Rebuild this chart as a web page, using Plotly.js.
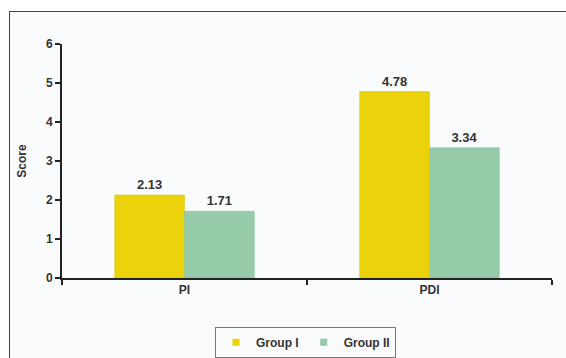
<!DOCTYPE html>
<html>
<head>
<meta charset="utf-8">
<script src="https://cdn.plot.ly/plotly-3.0.1.min.js"></script>
<style>
html,body{margin:0;padding:0;background:#fff;overflow:hidden;}
#frame{position:absolute;left:9px;top:11px;width:600px;height:400px;border:1.5px solid #444;background:#fafbfc;}
#chart{position:absolute;left:0;top:0;width:566px;height:358px;}
</style>
</head>
<body>
<div id="frame"></div>
<div id="chart"></div>
<script>
const categories = ["PI", "PDI"];
const groupI = [2.13, 4.78];
const groupII = [1.71, 3.34];
const seriesNames = ["Group I", "Group II"];
const yTicks = [0, 1, 2, 3, 4, 5, 6];

const fnt = {family: "Liberation Sans, Arial, sans-serif", size: 12, color: "#333", weight: "bold"};
const colI = "#ebd20a", colII = "#95cba8";

const traces = [
  {
    type: "bar", name: seriesNames[0], x: categories, y: groupI, showlegend: false,
    text: groupI.map(v => v.toFixed(2)), textposition: "outside",
    textfont: {family: fnt.family, size: 13, color: "#333", weight: "bold"},
    marker: {color: colI, line: {color: "#d9c400", width: 0.5}},
    cliponaxis: false
  },
  {
    type: "bar", name: seriesNames[1], x: categories, y: groupII, showlegend: false,
    text: groupII.map(v => v.toFixed(2)), textposition: "outside",
    textfont: {family: fnt.family, size: 13, color: "#333", weight: "bold"},
    marker: {color: colII, line: {color: "#85bb98", width: 0.5}},
    cliponaxis: false
  },
  {type: "scatter", mode: "markers", name: seriesNames[0], x: [null], y: [null],
   marker: {symbol: "square", size: 7, color: colI}},
  {type: "scatter", mode: "markers", name: seriesNames[1], x: [null], y: [null],
   marker: {symbol: "square", size: 7, color: colII}}
];

const layout = {
  width: 566, height: 358,
  margin: {l: 62, r: 14, t: 44, b: 80},
  paper_bgcolor: "rgba(0,0,0,0)",
  plot_bgcolor: "rgba(0,0,0,0)",
  barmode: "group",
  bargap: 0.43,
  bargroupgap: 0,
  font: fnt,
  showlegend: true,
  legend: {
    orientation: "h", x: 0.497, xanchor: "center",
    yref: "container", y: 0.087, yanchor: "top",
    bordercolor: "#777", borderwidth: 1, bgcolor: "#fafbfc",
    font: {family: fnt.family, size: 12, color: "#333", weight: "bold"},
    itemwidth: 30, tracegroupgap: 0
  },
  xaxis: {
    type: "category", showline: true, linecolor: "#222", linewidth: 2,
    ticks: "outside", tickson: "boundaries", ticklen: 5, tickcolor: "#222", tickwidth: 1.5,
    showgrid: false, tickfont: fnt, zeroline: false
  },
  yaxis: {
    range: [0, 6], tickvals: yTicks, showline: true, linecolor: "#222", linewidth: 2,
    ticks: "outside", ticklen: 5, tickcolor: "#222", tickwidth: 1.5,
    showgrid: false, zeroline: false, tickfont: fnt,
    title: {text: "Score", font: fnt, standoff: 17}
  }
};

Plotly.newPlot("chart", traces, layout, {displayModeBar: false, staticPlot: true});
</script>
</body>
</html>
